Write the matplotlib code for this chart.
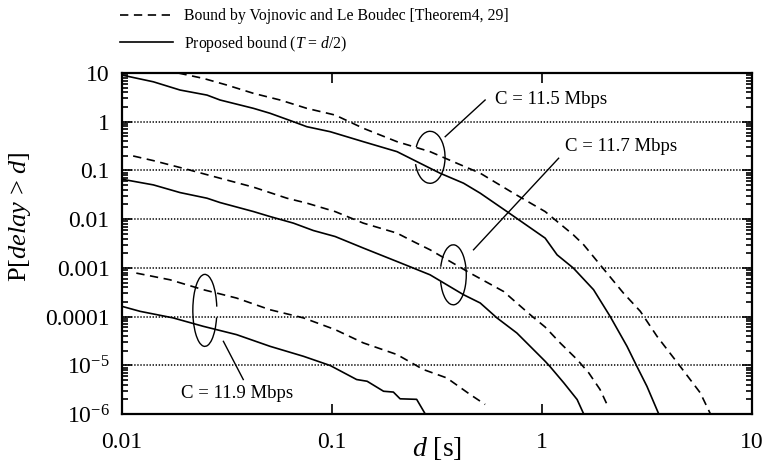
import matplotlib
matplotlib.use("Agg")
import matplotlib.pyplot as plt
from matplotlib.patches import Arc
from matplotlib.lines import Line2D
from matplotlib.ticker import FixedLocator, FuncFormatter, LogLocator, NullLocator, NullFormatter

plt.rcParams['font.family'] = ['Liberation Serif', 'DejaVu Serif']
plt.rcParams['mathtext.fontset'] = 'custom'
plt.rcParams['mathtext.rm'] = 'Liberation Serif'
plt.rcParams['mathtext.it'] = 'Liberation Serif:italic'
plt.rcParams['lines.scale_dashes'] = False

# C = 11.5 Mbps
d_115_prop = [0.01, 0.0141, 0.0189, 0.0254, 0.0293, 0.0423, 0.0507, 0.0655, 0.0759, 0.098, 0.141,
              0.204, 0.293, 0.327, 0.423, 0.508, 0.681, 1.035, 1.18, 1.41, 1.76, 2.11, 2.54, 2.83,
              3.16, 3.59, 3.7]
p_115_prop = [9.06, 6.6, 4.47, 3.52, 2.79, 1.88, 1.49, 1.0, 0.79, 0.624, 0.389, 0.243, 0.111, 0.0877,
              0.0547, 0.0341, 0.0143, 0.00408, 0.00185, 0.00099, 3.56e-4, 1.01e-4, 2.45e-5, 9.5e-6,
              3.7e-6, 1.02e-6, 7e-7]
d_115_vl = [0.016, 0.0189, 0.0244, 0.0316, 0.0423, 0.0566, 0.0759, 0.1035, 0.141, 0.204, 0.293, 0.378,
            0.508, 0.731, 1.035, 1.41, 1.58, 1.89, 2.44, 2.94, 3.53, 4.55, 5.67, 6.28, 6.5]
p_115_vl = [11.5, 9.8, 7.75, 5.65, 3.82, 2.79, 1.88, 1.37, 0.733, 0.389, 0.243, 0.151, 0.0877, 0.0341,
            0.0143, 0.00476, 0.00297, 0.00116, 3.05e-4, 1.28e-4, 3.93e-5, 9.5e-6, 2.72e-6, 1.09e-6,
            8e-7]

# C = 11.7 Mbps
d_117_prop = [0.01, 0.0141, 0.0189, 0.0254, 0.0293, 0.0423, 0.0507, 0.0655, 0.0815, 0.1035, 0.141,
              0.204, 0.293, 0.423, 0.508, 0.610, 0.759, 1.035, 1.09, 1.27, 1.47, 1.58, 1.62]
p_117_prop = [0.066, 0.0505, 0.0351, 0.0269, 0.0219, 0.0143, 0.0113, 0.00828, 0.00584, 0.0044,
              0.00255, 0.00135, 7.2e-4, 2.81e-4, 1.9e-4, 9.4e-5, 4.6e-5, 1.21e-5, 9.5e-6, 4.36e-6,
              1.98e-6, 1.0e-6, 8e-7]
d_117_vl = [0.0113, 0.0141, 0.0203, 0.0293, 0.0423, 0.061, 0.0759, 0.1035, 0.141, 0.204, 0.244, 0.293,
            0.455, 0.656, 0.879, 1.035, 1.22, 1.47, 1.67, 1.89, 2.04]
p_117_vl = [0.198, 0.159, 0.106, 0.0692, 0.0453, 0.0269, 0.0213, 0.0143, 0.00828, 0.00516, 0.00347,
            0.00235, 7.8e-4, 3.28e-4, 1.09e-4, 6.1e-5, 2.88e-5, 1.31e-5, 6.98e-6, 3.18e-6, 1.57e-6]

# C = 11.9 Mbps
d_119_prop = [0.01, 0.0122, 0.0175, 0.0244, 0.0351, 0.0507, 0.0731, 0.098, 0.131, 0.147, 0.176, 0.196,
              0.211, 0.253, 0.278, 0.29]
p_119_prop = [1.62e-4, 1.28e-4, 9.4e-5, 6.3e-5, 4.26e-5, 2.45e-5, 1.53e-5, 9.9e-6, 5.1e-6, 4.7e-6,
              2.93e-6, 2.82e-6, 2.05e-6, 2.0e-6, 1.0e-6, 8e-7]
d_119_vl = [0.0117, 0.0169, 0.0244, 0.0351, 0.0507, 0.0731, 0.1035, 0.141, 0.204, 0.272, 0.352, 0.455,
            0.536]
p_119_vl = [7.8e-4, 5.7e-4, 3.56e-4, 2.4e-4, 1.38e-4, 9.4e-5, 5.4e-5, 2.88e-5, 1.66e-5, 8.2e-6, 5.5e-6,
            2.51e-6, 1.57e-6]

y_ticks = [10, 1, 0.1, 0.01, 0.001, 0.0001, 1e-5, 1e-6]
y_tick_labels = ['10', '1', '0.1', '0.01', '0.001', '0.0001', '$10^{-5}$', '$10^{-6}$']
x_ticks = [0.01, 0.1, 1, 10]
x_tick_labels = ['0.01', '0.1', '1', '10']

legend_labels = ['Bound by Vojnovic and Le Boudec [Theorem4, 29]',
                 'Proposed bound ($\\mathit{T}$ = $\\mathit{d}$/2)']

# ellipse groupings: label, center d, center p, half width px, half height px, theta1, theta2,
# leader start, leader end, text position, text alignment
groups = [
    ('C = 11.5 Mbps', 0.293, 0.186, 15, 26, -139, 126, (0.346, 0.493), (0.536, 2.79), (0.598, 2.88), 'left'),
    ('C = 11.7 Mbps', 0.378, 7.2e-4, 13, 30, -135, 130, (0.472, 0.00235), (1.20, 0.178), (1.29, 0.307), 'left'),
    ('C = 11.9 Mbps', 0.0248, 1.34e-4, 12, 36, 30, 312, (0.0304, 3.1e-5), (0.0378, 5.1e-6), (0.0355, 2.63e-6), 'center'),
]

fig = plt.figure(figsize=(7.64, 4.61), dpi=100)
ax = fig.add_axes([122 / 764, 1 - 414 / 461, 630 / 764, 341 / 461])

dash = (0, (6, 4))
lw = 1.2
ax.plot(d_115_vl, p_115_vl, color='black', lw=lw, linestyle=dash)
ax.plot(d_117_vl, p_117_vl, color='black', lw=lw, linestyle=dash)
ax.plot(d_119_vl, p_119_vl, color='black', lw=lw, linestyle=dash)
ax.plot(d_115_prop, p_115_prop, color='black', lw=lw)
ax.plot(d_117_prop, p_117_prop, color='black', lw=lw)
ax.plot(d_119_prop, p_119_prop, color='black', lw=lw)

ax.set_xscale('log')
ax.set_yscale('log')
ax.set_xlim(0.01, 10)
ax.set_ylim(1e-6, 10)

ax.xaxis.set_major_locator(FixedLocator(x_ticks))
ax.xaxis.set_major_formatter(FuncFormatter(lambda v, pos: x_tick_labels[x_ticks.index(min(x_ticks, key=lambda t: abs(t / v - 1)))]))
ax.xaxis.set_minor_locator(NullLocator())
ax.yaxis.set_major_locator(FixedLocator(y_ticks))
ax.yaxis.set_major_formatter(FuncFormatter(lambda v, pos: y_tick_labels[y_ticks.index(min(y_ticks, key=lambda t: abs(t / v - 1)))]))
ax.yaxis.set_minor_locator(LogLocator(base=10, subs=range(2, 10), numticks=20))
ax.yaxis.set_minor_formatter(NullFormatter())

ax.tick_params(which='both', direction='in', top=True, right=True, width=1.2)
ax.tick_params(which='major', length=7)
ax.tick_params(which='minor', length=4)
ax.tick_params(axis='x', labelsize=17, pad=13)
ax.tick_params(axis='y', labelsize=17, pad=9)
for s in ax.spines.values():
    s.set_linewidth(1.6)

ax.grid(True, which='major', axis='y', color='black', linestyle=(0, (1, 1.2)), linewidth=1.1)

ax.set_xlabel('$\\mathit{d}$ [s]', fontsize=20)
ax.xaxis.set_label_coords(0.5, -0.062)
ax.set_ylabel('P[$\\mathit{delay}$ > $\\mathit{d}$]', fontsize=19)
ax.yaxis.set_label_coords(-0.141, 0.58)

# annotations
bbox = ax.get_window_extent()
for text, cx, cy, a, b, t1, t2, l0, l1, tpos, ha in groups:
    c = ax.transAxes.inverted().transform(ax.transData.transform((cx, cy)))
    arc = Arc(c, 2 * a / bbox.width, 2 * b / bbox.height, theta1=t1, theta2=t2,
              transform=ax.transAxes, color='black', lw=1.0)
    ax.add_patch(arc)
    ax.plot([l0[0], l1[0]], [l0[1], l1[1]], color='black', lw=1.0)
    ax.text(tpos[0], tpos[1], text, fontsize=13.5, ha=ha, va='center')

handles = [Line2D([], [], color='black', lw=lw, linestyle=dash),
           Line2D([], [], color='black', lw=lw)]
fig.legend(handles, legend_labels, loc='upper left', bbox_to_anchor=(120 / 764, 1 - 8 / 461),
           frameon=False, fontsize=11.3, handlelength=3.4, handletextpad=0.7, labelspacing=0.62,
           borderpad=0, borderaxespad=0)

fig.savefig('out.png', dpi=100)
